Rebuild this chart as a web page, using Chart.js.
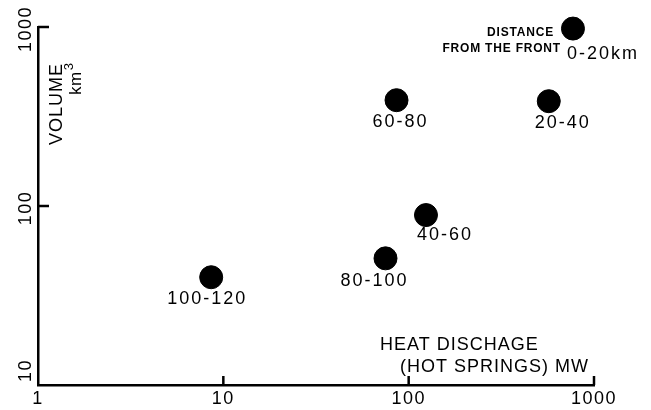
<!DOCTYPE html>
<html>
<head>
<meta charset="utf-8">
<script src="https://cdn.jsdelivr.net/npm/chart.js@4"></script>
<style>
  body { margin: 0; background: #fff; }
  canvas { display: block; }
</style>
</head>
<body>
<canvas id="chart" width="651" height="410"></canvas>
<script>
// distance from the front, heat discharge (MW), volume (km3)
const distance = ['0-20km', '20-40', '40-60', '60-80', '80-100', '100-120'];
const heat = [770, 570, 124, 86, 75, 8.6];
const volume = [980, 385, 89, 390, 51, 40];

const xTicks = [1, 10, 100, 1000];
const yTicks = [10, 100, 1000];

// label placement relative to each point (px)
const labelOffset = [[30, 25], [14, 22], [19, 20], [4, 22], [-11, 23], [-4, 22]];

const ink = '#000';
const font = '"Liberation Sans", Arial, Helvetica, sans-serif';

const annotate = {
    id: 'annotate',
    beforeDraw(chart) {
        chart.ctx.letterSpacing = '1.5px';
    },
    afterDraw(chart) {
        const ctx = chart.ctx;
        const x = chart.scales.x, y = chart.scales.y;
        const area = chart.chartArea;
        ctx.save();
        ctx.fillStyle = ink;
        ctx.strokeStyle = ink;

        // inward tick marks
        ctx.lineWidth = 2.5;
        xTicks.slice(1).forEach(v => {
            const px = x.getPixelForValue(v);
            ctx.beginPath();
            ctx.moveTo(px, area.bottom);
            ctx.lineTo(px, area.bottom - 9);
            ctx.stroke();
        });
        yTicks.slice(1).forEach(v => {
            const py = y.getPixelForValue(v);
            ctx.beginPath();
            ctx.moveTo(area.left, py);
            ctx.lineTo(area.left + 11, py);
            ctx.stroke();
        });

        // rotated y tick labels
        ctx.font = '18px ' + font;
        ctx.letterSpacing = '1.5px';
        ctx.textAlign = 'center';
        ctx.textBaseline = 'middle';
        yTicks.forEach(v => {
            const txt = String(v);
            const half = ctx.measureText(txt).width / 2;
            const py = Math.min(y.getPixelForValue(v) + 2, area.bottom - 3 - half);
            ctx.save();
            ctx.translate(area.left - 12, py);
            ctx.rotate(-Math.PI / 2);
            ctx.fillText(txt, 0, 0);
            ctx.restore();
        });

        // point labels
        ctx.letterSpacing = '2px';
        const meta = chart.getDatasetMeta(0);
        meta.data.forEach((pt, i) => {
            ctx.fillText(distance[i], pt.x + labelOffset[i][0], pt.y + labelOffset[i][1]);
        });

        // legend-ish note
        ctx.font = 'bold 12px ' + font;
        ctx.letterSpacing = '0.8px';
        ctx.textAlign = 'right';
        const p0 = meta.data[0];
        ctx.fillText('DISTANCE', p0.x - 19, p0.y + 4);
        ctx.fillText('FROM THE FRONT', p0.x - 12, p0.y + 20);

        // x axis title
        ctx.font = '18px ' + font;
        ctx.letterSpacing = '1px';
        ctx.textAlign = 'left';
        ctx.fillText('HEAT DISCHAGE', 380, 345);
        ctx.fillText('(HOT SPRINGS) MW', 400, 367);

        // y axis title
        ctx.save();
        ctx.translate(57, 104);
        ctx.rotate(-Math.PI / 2);
        ctx.textAlign = 'center';
        ctx.fillText('VOLUME', 0, 0);
        ctx.restore();

        ctx.save();
        ctx.translate(76, 95);
        ctx.rotate(-Math.PI / 2);
        ctx.textAlign = 'left';
        ctx.letterSpacing = '0.5px';
        ctx.font = '17px ' + font;
        ctx.fillText('km', 0, 0);
        const w = ctx.measureText('km').width;
        ctx.font = '13px ' + font;
        ctx.fillText('3', w + 1, -7);
        ctx.restore();

        ctx.restore();
    }
};

new Chart(document.getElementById('chart'), {
    type: 'scatter',
    data: {
        datasets: [{
            data: heat.map((h, i) => ({ x: h, y: volume[i] })),
            backgroundColor: ink,
            borderColor: ink,
            pointRadius: 11.5,
            pointHoverRadius: 11.5,
            clip: false
        }]
    },
    options: {
        responsive: false,
        animation: false,
        devicePixelRatio: 1,
        layout: { padding: { left: 0, right: 57, top: 27, bottom: 0 } },
        plugins: { legend: { display: false }, tooltip: { enabled: false } },
        scales: {
            x: {
                type: 'logarithmic',
                min: 1,
                max: 1000,
                afterBuildTicks: s => { s.ticks = xTicks.map(v => ({ value: v })); },
                afterFit: s => { s.height = 25; },
                grid: { display: false, drawTicks: false },
                border: { display: true, color: ink, width: 2.5 },
                ticks: {
                    color: ink,
                    font: { family: font, size: 18 },
                    padding: 3,
                    maxRotation: 0,
                    autoSkip: false,
                    callback: v => String(v)
                }
            },
            y: {
                type: 'logarithmic',
                min: 10,
                max: 1000,
                afterBuildTicks: s => { s.ticks = yTicks.map(v => ({ value: v })); },
                afterFit: s => { s.width = 38; },
                grid: { display: false, drawTicks: false },
                border: { display: true, color: ink, width: 2.5 },
                ticks: { display: false }
            }
        }
    },
    plugins: [annotate]
});
</script>
</body>
</html>
